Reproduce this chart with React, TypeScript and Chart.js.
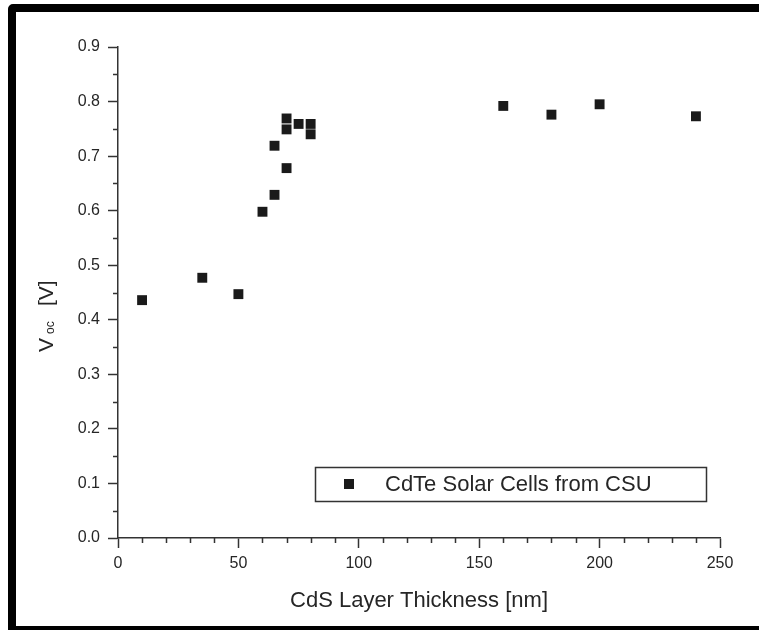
import React, { useEffect, useRef } from "react";
import { Chart, registerables } from "chart.js";

Chart.register(...registerables);

const thicknessNm = [10, 35, 50, 60, 65, 65, 70, 70, 70, 75, 80, 80, 160, 180, 200, 240];
const vocValues = [0.436, 0.477, 0.447, 0.598, 0.629, 0.719, 0.678, 0.749, 0.769, 0.759, 0.759, 0.740, 0.792, 0.776, 0.795, 0.773];
const seriesLabel = "CdTe Solar Cells from CSU";
const xTitle = "CdS Layer Thickness [nm]";
const xMinorTicks = [10, 20, 30, 40, 60, 70, 80, 90, 110, 120, 130, 140, 160, 170, 180, 190, 210, 220, 230, 240];
const yMinorTicks = [0.05, 0.15, 0.25, 0.35, 0.45, 0.55, 0.65, 0.75, 0.85];

const FONT = "'Liberation Sans', Arial, sans-serif";
const INK = "#262626";

const decorPlugin = {
  id: "decor",
  afterDraw(chart: any) {
    const ctx = chart.ctx as CanvasRenderingContext2D;
    const xs = chart.scales.x;
    const ys = chart.scales.y;
    const area = chart.chartArea;
    ctx.save();
    // minor ticks
    ctx.strokeStyle = "#333";
    ctx.lineWidth = 1.5;
    ctx.beginPath();
    for (const v of xMinorTicks) {
      const px = Math.round(xs.getPixelForValue(v)) + 0.5;
      ctx.moveTo(px, area.bottom);
      ctx.lineTo(px, area.bottom + 5);
    }
    for (const v of yMinorTicks) {
      const py = Math.round(ys.getPixelForValue(v)) + 0.5;
      ctx.moveTo(area.left - 5, py);
      ctx.lineTo(area.left, py);
    }
    ctx.stroke();

    // x title
    ctx.fillStyle = INK;
    ctx.font = `22px ${FONT}`;
    ctx.textAlign = "center";
    ctx.textBaseline = "alphabetic";
    ctx.fillText(xTitle, (area.left + area.right) / 2, 607);

    // y title V_oc [V]
    ctx.save();
    ctx.translate(53, 352);
    ctx.rotate(-Math.PI / 2);
    ctx.textAlign = "left";
    ctx.font = `21px ${FONT}`;
    ctx.fillText("V", 0, 0);
    ctx.font = `12px ${FONT}`;
    ctx.fillText("oc", 18, 1);
    ctx.font = `21px ${FONT}`;
    ctx.fillText("[V]", 46, 0);
    ctx.restore();

    // legend box
    ctx.strokeStyle = "#333";
    ctx.lineWidth = 1.5;
    ctx.strokeRect(315.5, 467.5, 391, 34);
    ctx.fillStyle = "#1a1a1a";
    ctx.fillRect(344, 479, 10, 10);
    ctx.fillStyle = INK;
    ctx.font = `22px ${FONT}`;
    ctx.textAlign = "left";
    ctx.fillText(seriesLabel, 385, 491);
    ctx.restore();
  },
};

export default function App() {
  const canvasRef = useRef<HTMLCanvasElement | null>(null);

  useEffect(() => {
    if (!canvasRef.current) return;
    const data = thicknessNm.map((x, i) => ({ x, y: vocValues[i] }));
    const chart = new Chart(canvasRef.current, {
      type: "scatter",
      data: {
        datasets: [
          {
            label: seriesLabel,
            data,
            pointStyle: "rect",
            pointRadius: 7,
            pointHoverRadius: 7,
            pointBackgroundColor: "#1a1a1a",
            pointBorderWidth: 0,
            borderWidth: 0,
          },
        ],
      },
      options: {
        responsive: false,
        animation: false,
        devicePixelRatio: 1,
        layout: { padding: { left: 0, top: 47, right: 39, bottom: 0 } },
        plugins: { legend: { display: false }, tooltip: { enabled: false } },
        scales: {
          x: {
            type: "linear",
            min: 0,
            max: 250,
            afterFit: (s: any) => {
              s.height = 92;
            },
            ticks: {
              stepSize: 50,
              color: INK,
              font: { family: FONT, size: 16 },
              padding: 6,
              maxRotation: 0,
            },
            grid: {
              drawOnChartArea: false,
              drawTicks: true,
              tickLength: 10,
              tickColor: "#333",
              tickWidth: 1.5,
            },
            border: { display: true, color: "#333", width: 1.5 },
          },
          y: {
            type: "linear",
            min: 0,
            max: 0.9,
            afterFit: (s: any) => {
              s.width = 118;
            },
            ticks: {
              stepSize: 0.1,
              color: INK,
              font: { family: FONT, size: 16 },
              padding: 8,
              callback: (v: any) => Number(v).toFixed(1),
            },
            grid: {
              drawOnChartArea: false,
              drawTicks: true,
              tickLength: 10,
              tickColor: "#333",
              tickWidth: 1.5,
            },
            border: { display: true, color: "#333", width: 1.5 },
          },
        },
      },
      plugins: [decorPlugin],
    });
    return () => chart.destroy();
  }, []);

  return (
    <div style={{ position: "fixed", left: 0, top: 0, width: 759, height: 630, overflow: "hidden", background: "#fff" }}>
      <div
        style={{
          position: "absolute",
          left: 8,
          top: 4,
          width: 820,
          height: 630,
          boxSizing: "border-box",
          border: "8px solid #000",
          borderRadius: 5,
          background: "#fff",
        }}
      />
      <canvas ref={canvasRef} width={759} height={630} style={{ position: "absolute", left: 0, top: 0, width: 759, height: 630 }} />
    </div>
  );
}
